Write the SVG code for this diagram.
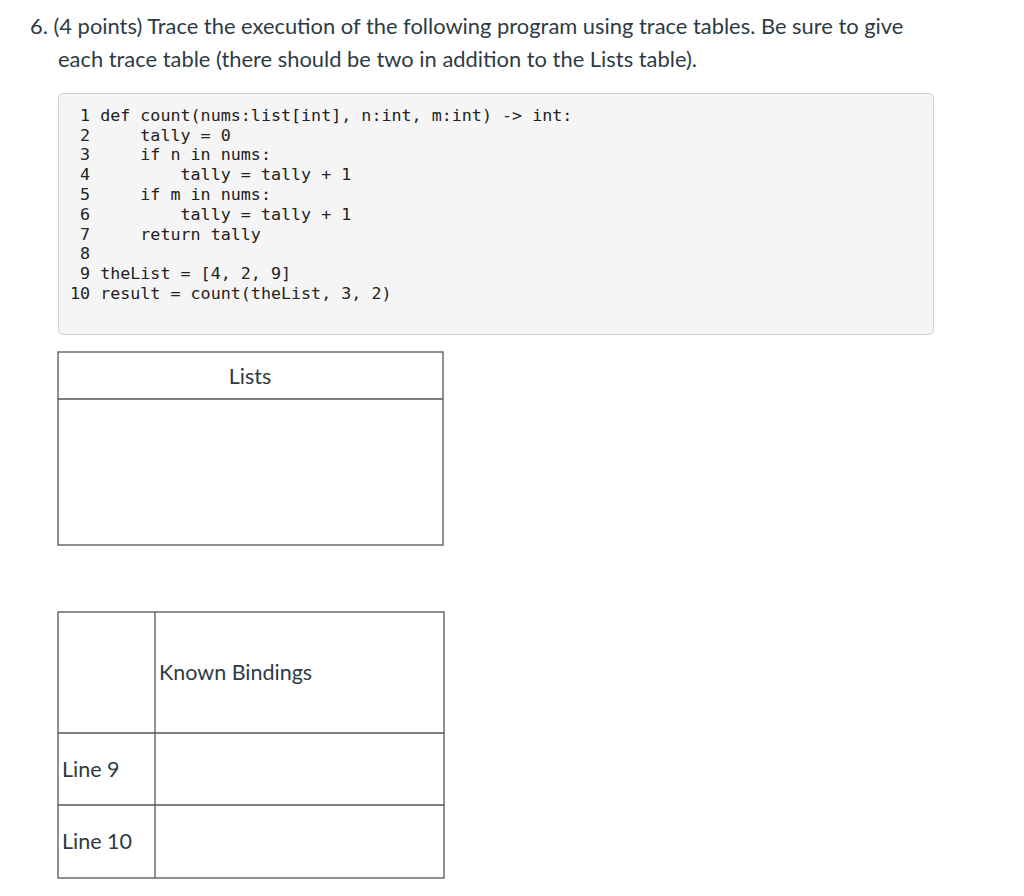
<svg xmlns="http://www.w3.org/2000/svg" width="1024" height="896" viewBox="0 0 1024 896">
<style>
.t{font-family:Lato,"Open Sans",sans-serif;font-size:21.9px;fill:#2d3b45}
.c{font-family:"DejaVu Sans Mono",monospace;font-size:16.7px;fill:#222;white-space:pre}
.l{font-family:Lato,"Open Sans",sans-serif;font-size:21.5px;fill:#2d3b45}
.b{fill:#fff;stroke:#555;stroke-width:1.3}
</style>
<rect width="1024" height="896" fill="#fff"/>
<text class="t" x="30" y="34">6. (4 points) Trace the execution of the following program using trace tables. Be sure to give</text>
<text class="t" x="58" y="67">each trace table (there should be two in addition to the Lists table).</text>
<rect x="58.5" y="93.5" width="875" height="241" rx="5" fill="#f5f5f5" stroke="#c8cdd0"/>
<g class="c">
<text xml:space="preserve" x="70" y="121"> 1 def count(nums:list[int], n:int, m:int) -&gt; int:</text>
<text xml:space="preserve" x="70" y="141"> 2     tally = 0</text>
<text xml:space="preserve" x="70" y="160"> 3     if n in nums:</text>
<text xml:space="preserve" x="70" y="180"> 4         tally = tally + 1</text>
<text xml:space="preserve" x="70" y="200"> 5     if m in nums:</text>
<text xml:space="preserve" x="70" y="220"> 6         tally = tally + 1</text>
<text xml:space="preserve" x="70" y="240"> 7     return tally</text>
<text xml:space="preserve" x="70" y="259"> 8</text>
<text xml:space="preserve" x="70" y="279"> 9 theList = [4, 2, 9]</text>
<text xml:space="preserve" x="70" y="299">10 result = count(theList, 3, 2)</text>
</g>
<g id="lists">
<rect class="b" x="58" y="352" width="385" height="193"/>
<line x1="58" y1="399" x2="443" y2="399" stroke="#555" stroke-width="1.3"/>
<text class="l" x="250" y="384" text-anchor="middle">Lists</text>
</g>
<g id="bindings">
<rect class="b" x="58" y="612" width="386" height="266"/>
<line x1="155" y1="612" x2="155" y2="878" stroke="#555" stroke-width="1.3"/>
<line x1="58" y1="733" x2="444" y2="733" stroke="#555" stroke-width="1.3"/>
<line x1="58" y1="805" x2="444" y2="805" stroke="#555" stroke-width="1.3"/>
<text class="l" x="159" y="680">Known Bindings</text>
<text class="l" x="62" y="777">Line 9</text>
<text class="l" x="62" y="849">Line 10</text>
</g>
</svg>
